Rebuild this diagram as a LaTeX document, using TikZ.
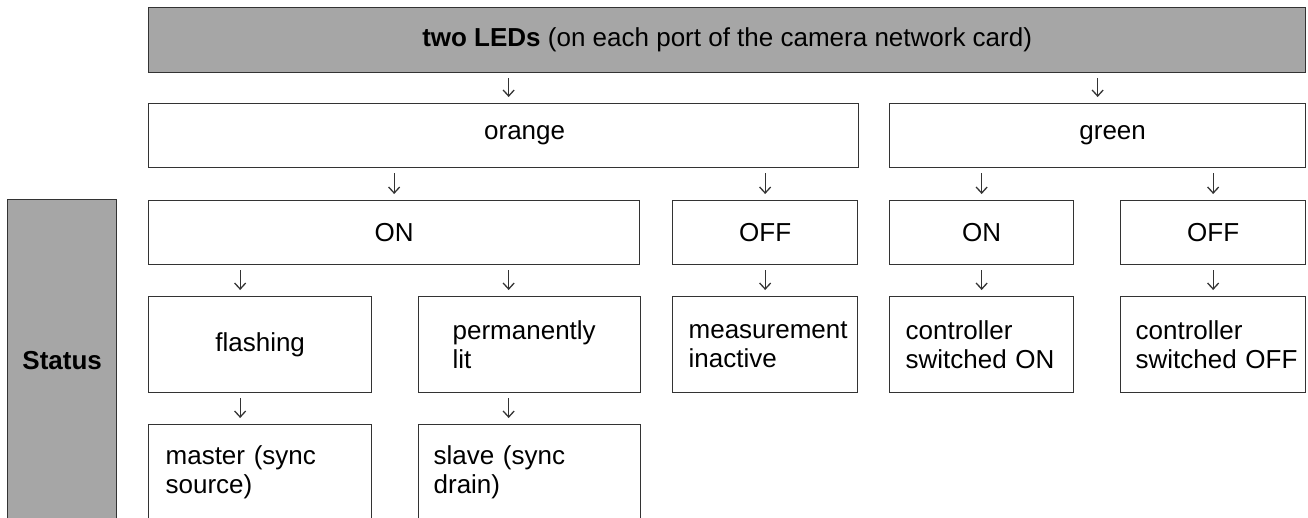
\documentclass[tikz,border=0pt]{standalone}
\usepackage{fontspec}
\setmainfont{Liberation Sans}
\usetikzlibrary{calc}
\usetikzlibrary{arrows.meta}
\definecolor{headColor}{HTML}{A6A6A6}
\definecolor{edgeColor}{HTML}{333333}

\begin{document}
\begin{tikzpicture}[x=1pt, y=-1pt,
		font=\fontsize{26}{29}\selectfont,
		cell/.style={draw=edgeColor, line width=1.3pt, fill=white, anchor=north west, inner sep=0pt, align=center},
		hd/.style={cell, fill=headColor},
		lft/.style={cell, align=left, inner xsep=16pt},
		arr/.style={-{Straight Barb[length=6pt, width=11pt]}, line width=1.3pt, draw=edgeColor, shorten <=5pt, shorten >=6pt}
		]
		\useasboundingbox (0,0) rectangle (1308,517);
		\clip (0,0) rectangle (1308,517);

		\node[hd, minimum width=1157pt, minimum height=65pt] (leds) at (148,7) {\textbf{two LEDs} (on each port of the camera network card)};

		\node[cell, minimum width=710pt, minimum height=64pt, label={[xshift=21pt]center:orange}] (orange) at (148,103) {};
		\node[cell, minimum width=416pt, minimum height=64pt, label={[xshift=15pt]center:green}] (green) at (889,103) {};

		\node[hd, minimum width=109pt, minimum height=321pt] (status) at (7,199) {\textbf{Status}};

		\node[cell, minimum width=491pt, minimum height=64pt] (oOn) at (148,200) {ON};
		\node[cell, minimum width=185pt, minimum height=64pt] (oOff) at (672,200) {OFF};
		\node[cell, minimum width=184pt, minimum height=64pt] (gOn) at (889,200) {ON};
		\node[cell, minimum width=185pt, minimum height=64pt] (gOff) at (1120,200) {OFF};

		\node[cell, minimum width=223pt, minimum height=96pt] (flash) at (148,296) {flashing};
		\node[lft, inner xsep=34pt, text width=154pt, minimum height=96pt] (lit) at (418,296) {permanently\\lit};
		\node[lft, text width=153pt, minimum height=96pt] (meas) at (672,296) {measurement\\inactive};
		\node[lft, text width=152pt, minimum height=96pt] (ctrlOn) at (889,296) {controller\\switched~ON};
		\node[lft, inner xsep=15pt, text width=155pt, minimum height=96pt] (ctrlOff) at (1120,296) {controller\\switched~OFF};

		\node[lft, inner xsep=17pt, text width=189pt, minimum height=96pt] (master) at (148,424) {master (sync\\source)};
		\node[lft, inner xsep=15pt, text width=192pt, minimum height=96pt] (slave) at (418,424) {slave (sync\\drain)};

		\foreach \a/\b/\dx in {leds/orange/5, leds/green/0, orange/oOn/0, orange/oOff/0, green/gOn/0, green/gOff/0, oOn/flash/-20, oOn/lit/-21, oOff/meas/0, gOn/ctrlOn/0, gOff/ctrlOff/0, flash/master/-20, lit/slave/-21}
			\draw[arr] ($(\b.north |- \a.south)+(\dx,0)$) -- ($(\b.north)+(\dx,0)$);
	\end{tikzpicture}
\end{document}
